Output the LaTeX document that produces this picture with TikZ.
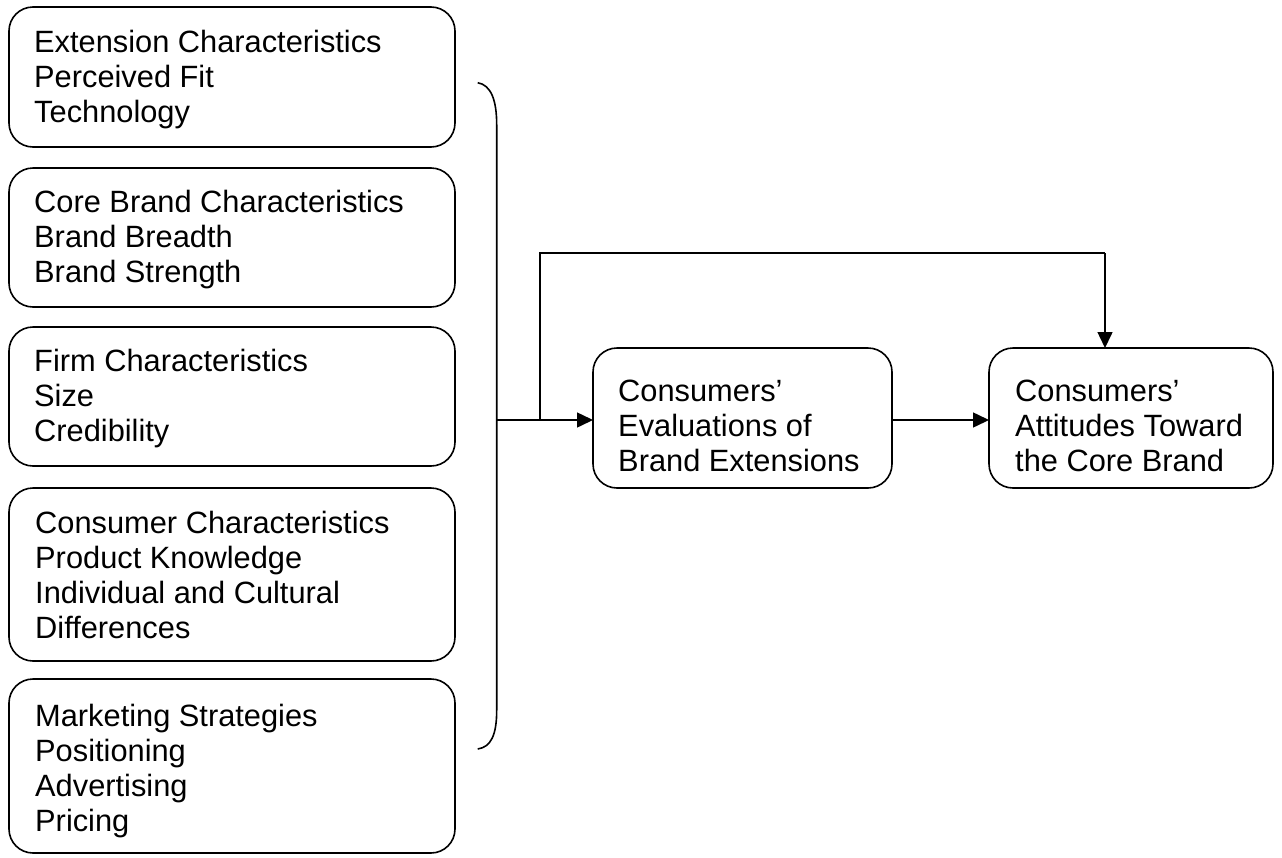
\documentclass[tikz,border=0pt]{standalone}
\usepackage{fontspec}
\setmainfont{Liberation Sans}
\usetikzlibrary{arrows.meta}
\begin{document}
\begin{tikzpicture}[x=1pt,y=-1pt,
  box/.style={draw, line width=1.6pt, rounded corners=24pt, anchor=north west, inner sep=0pt, outer sep=0pt},
  txt/.style={anchor=north west, inner sep=0pt, align=left, font=\fontsize{30.8pt}{35pt}\selectfont},
  conn/.style={line width=1.5pt},
  arr/.style={conn, -{Triangle[length=16pt,width=15pt]}},
  bracestyle/.style={line width=1.6pt}]
\useasboundingbox (0,0) rectangle (1282,857);
% left boxes
\node[box, minimum width=446pt, minimum height=140pt] (b1) at (9,7) {};
\node[box, minimum width=446pt, minimum height=139pt] (b2) at (9,168) {};
\node[box, minimum width=446pt, minimum height=139pt] (b3) at (9,327) {};
\node[box, minimum width=446pt, minimum height=173pt] (b4) at (9,488) {};
\node[box, minimum width=446pt, minimum height=174pt] (b5) at (9,679) {};
\node[txt] (t1) at (34,27.5) {\strut Extension Characteristics\\Perceived Fit\\Technology};
\node[txt] (t2) at (34,187.5) {\strut Core Brand Characteristics\\Brand Breadth\\Brand Strength};
\node[txt] (t3) at (34,347) {\strut Firm Characteristics\\Size\\Credibility};
\node[txt] (t4) at (35,508.5) {\strut Consumer Characteristics\\Product Knowledge\\Individual and Cultural\\Differences};
\node[txt] (t5) at (35,701.5) {\strut Marketing Strategies\\Positioning\\Advertising\\Pricing};
% right boxes
\node[box, minimum width=299pt, minimum height=140pt] (mid) at (593,348) {};
\node[box, minimum width=284pt, minimum height=140pt] (right) at (989,348) {};
\node[txt] (tm) at (618,376.5) {\strut Consumers'\\Evaluations of\\Brand Extensions};
\node[txt] (tr) at (1015,376.5) {\strut Consumers'\\Attitudes Toward\\the Core Brand};
% brace
\coordinate (bt) at (477.7,82.7);
\coordinate (bb) at (477.7,749);
\coordinate (j) at (496.7,420);
\draw[bracestyle] (bt) .. controls (491,85) and (496.7,100) .. (496.7,125)
  -- (496.7,710) .. controls (496.7,735) and (491,747) .. (bb);
% connectors
\coordinate (b) at (540,420);
\coordinate (t) at (1105,253);
\draw[arr] (j) -- (mid.west |- j);
\draw[conn] (b) |- (t);
\draw[arr] (t) -- (t |- right.north);
\draw[arr] (mid.east |- j) -- (right.west |- j);
\end{tikzpicture}
\end{document}
